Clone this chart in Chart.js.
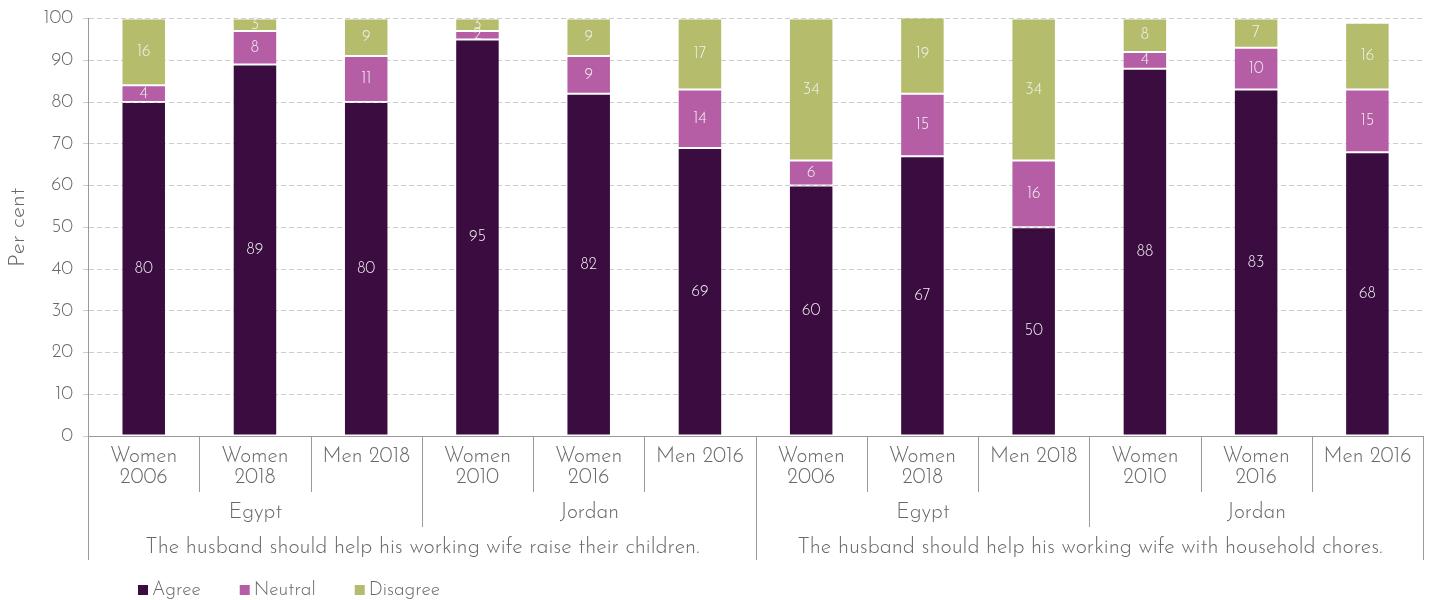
<!DOCTYPE html>
<html>
<head>
<meta charset="utf-8">
<script src="https://cdn.jsdelivr.net/npm/chart.js@4.4.0/dist/chart.umd.min.js"></script>
<style>
  html, body { margin: 0; padding: 0; background: #fff; }
  #wrap { width: 1430px; height: 600px; position: relative; }
</style>
</head>
<body>
<div id="wrap"><canvas id="chart"></canvas></div>
<script>
// ---- data ----
const categories = [
  ['Women', '2006'], ['Women', '2018'], 'Men 2018',
  ['Women', '2010'], ['Women', '2016'], 'Men 2016',
  ['Women', '2006'], ['Women', '2018'], 'Men 2018',
  ['Women', '2010'], ['Women', '2016'], 'Men 2016'
];
const countries = [
  { label: 'Egypt', from: 0, to: 2 },
  { label: 'Jordan', from: 3, to: 5 },
  { label: 'Egypt', from: 6, to: 8 },
  { label: 'Jordan', from: 9, to: 11 }
];
const statements = [
  { label: 'The husband should help his working wife raise their children.', from: 0, to: 5 },
  { label: 'The husband should help his working wife with household chores.', from: 6, to: 11 }
];
const agree    = [80, 89, 80, 95, 82, 69, 60, 67, 50, 88, 83, 68];
const neutral  = [ 4,  8, 11,  2,  9, 14,  6, 15, 16,  4, 10, 15];
const disagree = [16,  3,  9,  3,  9, 17, 34, 19, 34,  8,  7, 16];
const yTicks = [0, 10, 20, 30, 40, 50, 60, 70, 80, 90, 100];

const FONT = "'Josefin Sans', 'Lato', 'Noto Sans', sans-serif";
const TEXT = '#686868';
const LINE = '#9a9a9a';

// segment values written in the middle of each piece
const valueLabels = {
  id: 'valueLabels',
  afterDatasetsDraw(chart) {
    const ctx = chart.ctx;
    ctx.save();
    ctx.font = `300 16px ${FONT}`;
    ctx.fillStyle = '#f0f0f0';
    ctx.textAlign = 'center';
    ctx.textBaseline = 'middle';
    chart.data.datasets.forEach((ds, di) => {
      chart.getDatasetMeta(di).data.forEach((bar, i) => {
        const v = ds.data[i];
        if (!v) return;
        ctx.fillText(v, bar.x, (bar.y + bar.base) / 2);
      });
    });
    ctx.restore();
  }
};

// nested category axis + legend
const groupAxis = {
  id: 'groupAxis',
  afterDraw(chart) {
    const ctx = chart.ctx;
    const x = chart.scales.x;
    const top = chart.chartArea.bottom;
    const step = x.getPixelForValue(1) - x.getPixelForValue(0);
    const edge = i => Math.round(x.getPixelForValue(i) - step / 2) + 0.5;
    const row1 = top + 56, row2 = top + 91, row3 = top + 124;

    ctx.save();
    ctx.strokeStyle = LINE;
    ctx.lineWidth = 1;
    for (let i = 0; i <= categories.length; i++) {
      let end = row1;
      if (countries.some(g => g.from === i || g.to + 1 === i)) end = row2;
      if (statements.some(g => g.from === i || g.to + 1 === i)) end = row3;
      ctx.beginPath();
      ctx.moveTo(edge(i), top);
      ctx.lineTo(edge(i), end);
      ctx.stroke();
    }

    ctx.fillStyle = TEXT;
    ctx.textAlign = 'center';
    ctx.textBaseline = 'middle';
    ctx.font = `300 21px ${FONT}`;
    countries.forEach(g => {
      ctx.fillText(g.label, (edge(g.from) + edge(g.to + 1)) / 2, top + 77);
    });
    ctx.font = `300 21.5px ${FONT}`;
    statements.forEach(g => {
      ctx.fillText(g.label, (edge(g.from) + edge(g.to + 1)) / 2, top + 112);
    });

    // legend
    ctx.font = `300 19px ${FONT}`;
    ctx.textAlign = 'left';
    let lx = 138;
    const ly = 590;
    chart.data.datasets.forEach(ds => {
      ctx.fillStyle = ds.backgroundColor;
      ctx.fillRect(lx, ly - 5, 10, 10);
      ctx.fillStyle = TEXT;
      ctx.fillText(ds.label, lx + 14, ly);
      lx += 14 + ctx.measureText(ds.label).width + 39;
    });
    ctx.restore();
  }
};

new Chart(document.getElementById('chart'), {
  type: 'bar',
  data: {
    labels: categories,
    datasets: [
      { label: 'Agree', data: agree, backgroundColor: '#3a0c40' },
      { label: 'Neutral', data: neutral, backgroundColor: '#b65ea5' },
      { label: 'Disagree', data: disagree, backgroundColor: '#b5bd6d' }
    ].map(d => Object.assign(d, {
      borderColor: 'rgba(255,255,255,0.3)',
      borderWidth: 1,
      borderSkipped: false,
      categoryPercentage: 1,
      barPercentage: 0.4
    }))
  },
  options: {
    responsive: true,
    maintainAspectRatio: false,
    animation: false,
    layout: { padding: { top: 0, right: 7, bottom: 40, left: 4 } },
    plugins: {
      legend: { display: false },
      tooltip: { enabled: false }
    },
    scales: {
      x: {
        stacked: true,
        grid: { display: false, drawTicks: false },
        border: { display: true, color: LINE },
        ticks: {
          padding: 10,
          color: TEXT,
          font: { family: FONT, size: 21, weight: 300, lineHeight: 1.0 },
          maxRotation: 0,
          autoSkip: false
        },
        afterFit(scale) { scale.height = 124; }
      },
      y: {
        stacked: true,
        min: 0,
        max: 100,
        afterBuildTicks(scale) { scale.ticks = yTicks.map(v => ({ value: v })); },
        grid: {
          color: '#cccccc',
          tickLength: 5,
          tickColor: '#cccccc'
        },
        border: { display: true, color: LINE, dash: [5, 3] },
        ticks: {
          padding: 10,
          color: TEXT,
          font: { family: FONT, size: 19, weight: 300, lineHeight: 0.9 }
        },
        title: {
          display: true,
          text: 'Per cent',
          color: TEXT,
          font: { family: FONT, size: 23, weight: 300 },
          padding: { top: 0, bottom: 2 }
        }
      }
    }
  },
  plugins: [valueLabels, groupAxis]
});
</script>
</body>
</html>
